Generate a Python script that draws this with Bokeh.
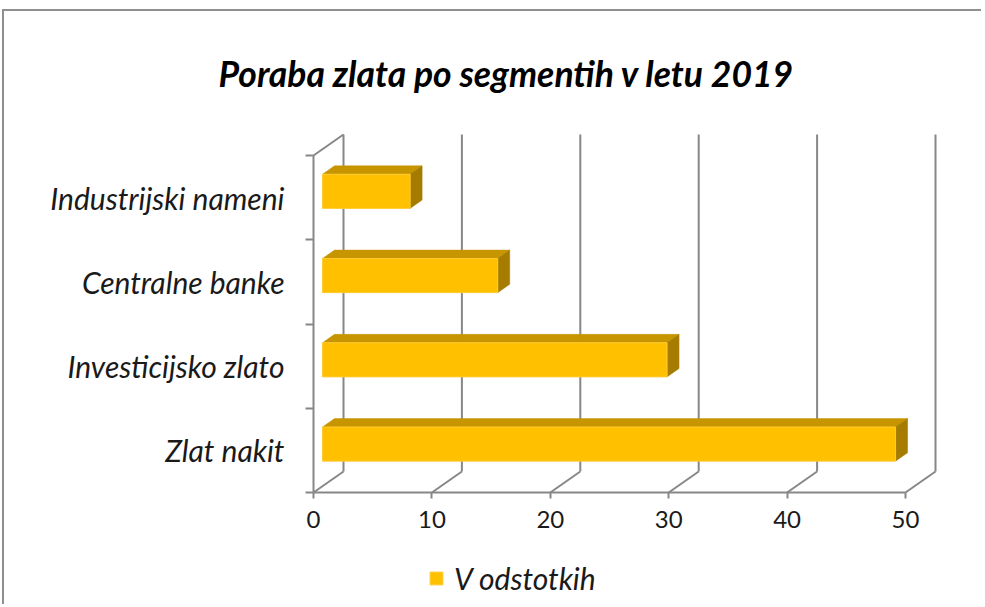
from bokeh.plotting import figure
from bokeh.models import Range1d, FixedTicker, Legend, LegendItem
from bokeh.embed import file_html
from bokeh.resources import INLINE

# ---- data ----
categories = ["Zlat nakit", "Investicijsko zlato", "Centralne banke", "Industrijski nameni"]
values = [48.4, 29.1, 14.8, 7.4]
x_ticks = [0, 10, 20, 30, 40, 50]
series_name = "V odstotkih"
title_text = "Poraba zlata po segmentih v letu 2019"

# ---- 3D styling constants (axis units) ----
PX_X = 11.84          # px per x unit
PX_Y = 84.25          # px per category
DX = 30 / PX_X        # wall depth along x
DY = 21 / PX_Y        # wall depth along y
BAR_FRONT = 0.30      # depth fraction of bar front face
BAR_DEPTH = 0.40      # depth fraction of bar thickness
BAR_H = 0.405         # bar height (category units)
PADX = 2 / PX_X
PADY = 2 / PX_Y
LEFT = 300 / PX_X     # room left of the wall for category labels
BELOW = 112 / PX_Y    # room under the floor for tick labels and legend

N = len(categories)
XMAX = x_ticks[-1]

x0, x1 = -LEFT, XMAX + DX + PADX
y0, y1 = -BELOW, N + DY + PADY
fw = round((x1 - x0) * PX_X)
fh = round((y1 - y0) * PX_Y)

FONT = "Lato"
GRID = "#878787"

p = figure(frame_width=fw, frame_height=fh, output_backend="svg", toolbar_location=None,
           x_range=Range1d(x0, x1), y_range=Range1d(y0, y1),
           min_border_left=9, min_border_right=44, min_border_top=119, min_border_bottom=0,
           title=title_text)
p.styles = {"border-left": "2px solid #8f8f8f", "border-top": "2px solid #8f8f8f",
            "margin-top": "9px", "margin-left": "2px"}
p.outline_line_color = None
p.xgrid.visible = False
p.ygrid.visible = False
p.background_fill_color = "white"
p.border_fill_color = "white"

# title
p.title.align = "left"
p.title.offset = 205
p.title.text_font = FONT
p.title.text_font_style = "bold italic"
p.title.text_font_size = "35.5px"
p.title.text_color = "black"
p.title.standoff = 76

# x axis drawn on the floor's front edge
p.xaxis.fixed_location = 0
p.xaxis.ticker = FixedTicker(ticks=x_ticks, minor_ticks=[])
p.xaxis.axis_line_color = None
p.xaxis.major_tick_line_color = GRID
p.xaxis.major_tick_line_width = 2
p.xaxis.major_tick_in = 0
p.xaxis.major_tick_out = 6
p.xaxis.major_label_standoff = 12
p.xaxis.major_label_text_font = FONT
p.xaxis.major_label_text_font_size = "24px"
p.xaxis.major_label_text_color = "#1a1a1a"

# y axis on the wall's front edge (labels centred between boundary ticks)
centers = [i + 0.5 for i in range(N)]
bounds = [i for i in range(N + 1)]
p.yaxis.fixed_location = 0
p.yaxis.ticker = FixedTicker(ticks=centers, minor_ticks=bounds)
p.yaxis.major_label_overrides = {c: lab for c, lab in zip(centers, categories)}
p.yaxis.axis_line_color = None
p.yaxis.major_tick_line_color = None
p.yaxis.major_tick_in = 0
p.yaxis.major_tick_out = 0
p.yaxis.minor_tick_line_color = GRID
p.yaxis.minor_tick_line_width = 2
p.yaxis.minor_tick_in = 0
p.yaxis.minor_tick_out = 8
p.yaxis.major_label_standoff = 21
p.yaxis.major_label_text_font = FONT
p.yaxis.major_label_text_font_style = "italic"
p.yaxis.major_label_text_font_size = "30px"
p.yaxis.major_label_text_color = "#1a1a1a"

# ---- walls / gridlines ----
xs, ys = [], []
for t in x_ticks:
    xs.append([t + DX, t + DX]); ys.append([DY, N + DY])   # back wall verticals
    xs.append([t, t + DX]); ys.append([0, DY])             # floor diagonals
xs.append([0, XMAX]); ys.append([0, 0])                    # front floor edge
xs.append([0, 0]); ys.append([0, N])                       # left wall front edge
xs.append([0, DX]); ys.append([N, N + DY])                 # left wall top edge
p.multi_line(xs, ys, line_color=GRID, line_width=2)

# ---- 3D bars ----
fx, fy = BAR_FRONT * DX, BAR_FRONT * DY
ddx, ddy = BAR_DEPTH * DX, BAR_DEPTH * DY
front_x, front_y, top_x, top_y, side_x, side_y = [], [], [], [], [], []
for i, v in enumerate(values):
    yb = i + 0.5 - BAR_H / 2 + fy
    yt = yb + BAR_H
    front_x.append([fx, v + fx, v + fx, fx]); front_y.append([yb, yb, yt, yt])
    top_x.append([fx, v + fx, v + fx + ddx, fx + ddx]); top_y.append([yt, yt, yt + ddy, yt + ddy])
    side_x.append([v + fx, v + fx + ddx, v + fx + ddx, v + fx]); side_y.append([yb, yb + ddy, yt + ddy, yt])

p.patches(top_x, top_y, fill_color="#C79500", line_color="#C79500", line_width=0.5)
p.patches(side_x, side_y, fill_color="#A67C00", line_color="#A67C00", line_width=0.5)
front = p.patches(front_x, front_y, fill_color="#FFC000", line_color="#FFCB33", line_width=1)

legend = Legend(items=[LegendItem(label=series_name, renderers=[front])],
                location=(415, 8), orientation="horizontal",
                glyph_width=16, glyph_height=16, label_standoff=10,
                padding=0, margin=0, border_line_color=None, background_fill_alpha=0,
                label_text_font=FONT, label_text_font_style="italic",
                label_text_font_size="30px", label_text_color="#1a1a1a")
p.add_layout(legend, "center")

open("out.html", "w").write(file_html(p, INLINE))
